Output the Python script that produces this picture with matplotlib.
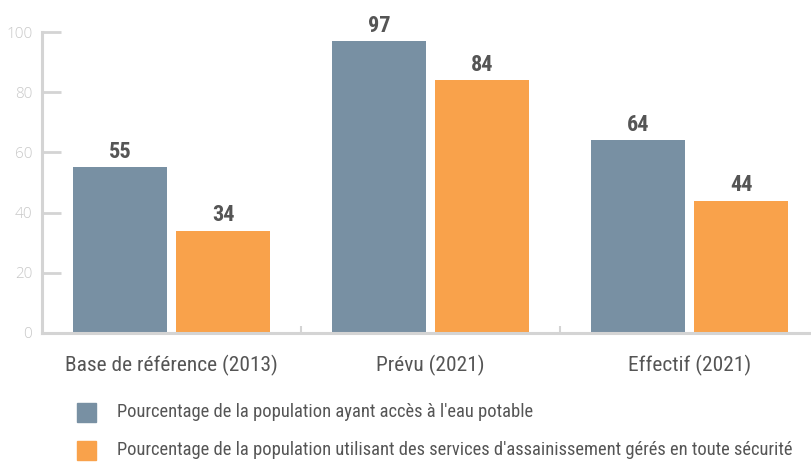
import matplotlib
matplotlib.use("Agg")
import matplotlib.pyplot as plt
import numpy as np

categories = ["Base de référence (2013)", "Prévu (2021)", "Effectif (2021)"]
eau_potable = [55, 97, 64]
assainissement = [34, 84, 44]
legend_labels = [
    "Pourcentage de la population ayant accès à l'eau potable",
    "Pourcentage de la population utilisant des services d'assainissement gérés en toute sécurité",
]
yticks = [0, 20, 40, 60, 80, 100]

gris = "#7890a3"
orange = "#f9a24b"
texte = "#555555"
axe = "#d4d4d4"
plt.rcParams["font.family"] = ["Roboto Condensed", "DejaVu Sans"]

fig = plt.figure(figsize=(8.11, 4.62), dpi=100)
ax = fig.add_axes([42 / 811, 129 / 462, 777 / 811, 301 / 462])

x = np.arange(len(categories))
w = 0.363
off = 0.199
b1 = ax.bar(x - off, eau_potable, w, color=gris)
b2 = ax.bar(x + off, assainissement, w, color=orange)

for bars, vals in ((b1, eau_potable), (b2, assainissement)):
    for r, v in zip(bars, vals):
        ax.text(r.get_x() + r.get_width() / 2, v + 1.5, str(v), ha="center", va="bottom",
                fontsize=16, fontweight="bold", color=texte, clip_on=False)

ax.set_xlim(-0.5, 2.5)
ax.set_ylim(0, 100)
ax.set_yticks(yticks)
ax.tick_params(axis="y", direction="in", length=14, width=2, color=axe, labelcolor="#c8c8c8",
               labelsize=11, pad=7)
for lab in ax.get_yticklabels():
    lab.set_family(["Open Sans", "DejaVu Sans"])
    lab.set_fontweight("light")

ax.set_xticks([0.5, 1.5])
ax.set_xticklabels([])
ax.tick_params(axis="x", direction="in", length=5, width=1.5, color=axe)
for i, c in enumerate(categories):
    ax.text(x[i], -7.3, c, ha="center", va="top", fontsize=15.4, color=texte, clip_on=False)

for s in ("top", "right"):
    ax.spines[s].set_visible(False)
for s in ("left", "bottom"):
    ax.spines[s].set_color(axe)
    ax.spines[s].set_linewidth(2.2)

# légende
for i, (lab, col) in enumerate(zip(legend_labels, [gris, orange])):
    yc = (462 - 412 - 38 * i) / 462
    fig.patches.append(plt.Rectangle((77 / 811, yc - 10 / 462), 19 / 811, 19 / 462,
                                     transform=fig.transFigure, color=col))
    fig.text(117 / 811, yc, lab, ha="left", va="center", fontsize=13.3, color=texte)

fig.savefig("out.png", dpi=100)
